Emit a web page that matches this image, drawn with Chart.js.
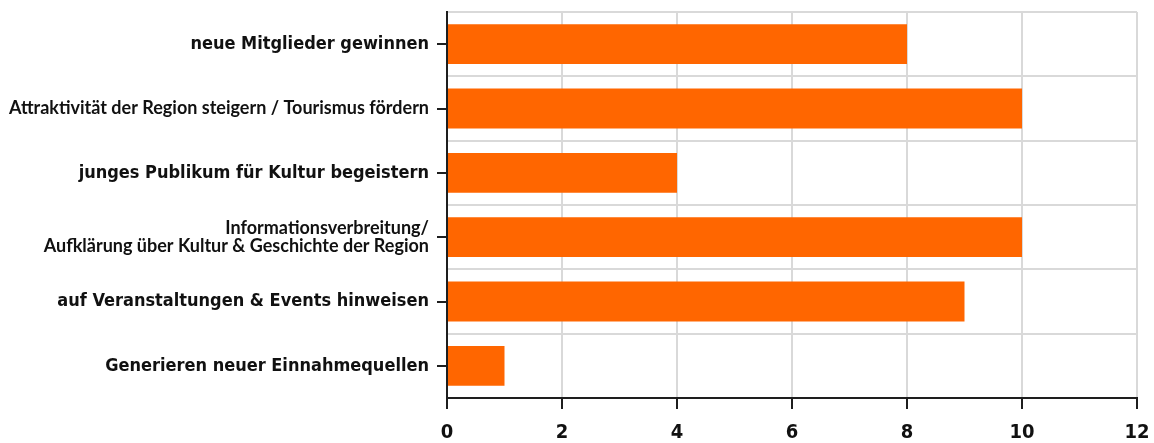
<!DOCTYPE html>
<html>
<head>
<meta charset="utf-8">
<script src="https://cdn.jsdelivr.net/npm/chart.js@4"></script>
<style>
  html, body { margin: 0; padding: 0; background: #fff; }
  #wrap { width: 1154px; height: 443px; }
</style>
</head>
<body>
<div id="wrap"><canvas id="chart"></canvas></div>
<script>
const categories = [
  "neue Mitglieder gewinnen",
  "Attraktivität der Region steigern / Tourismus fördern",
  "junges Publikum für Kultur begeistern",
  ["Informationsverbreitung/", "Aufklärung über Kultur & Geschichte der Region"],
  "auf Veranstaltungen & Events hinweisen",
  "Generieren neuer Einnahmequellen"
];
const counts = [8, 10, 4, 10, 9, 1];
const xTicks = [0, 2, 4, 6, 8, 10, 12];
// the two long labels are set in a narrower face
const narrowLabels = [1, 3];

const AXIS = "#1e1e1e";
const GRID = "#d9d9d9";

// short dark tick marks at the centre of each category band
const categoryTicks = {
  id: "categoryTicks",
  afterDraw(chart) {
    const { ctx, chartArea, scales } = chart;
    ctx.save();
    ctx.strokeStyle = AXIS;
    ctx.lineWidth = 2;
    scales.y.ticks.forEach((t, i) => {
      const y = Math.round(scales.y.getPixelForTick(i));
      ctx.beginPath();
      ctx.moveTo(chartArea.left - 10, y);
      ctx.lineTo(chartArea.left, y);
      ctx.stroke();
    });
    ctx.restore();
  }
};

new Chart(document.getElementById("chart"), {
  type: "bar",
  data: {
    labels: categories,
    datasets: [{
      data: counts,
      backgroundColor: "#ff6600",
      categoryPercentage: 1,
      barPercentage: 0.62
    }]
  },
  options: {
    indexAxis: "y",
    responsive: true,
    maintainAspectRatio: false,
    animation: false,
    layout: { padding: { top: 12, right: 17, left: 8, bottom: 0 } },
    plugins: { legend: { display: false }, tooltip: { enabled: false } },
    scales: {
      x: {
        min: 0,
        max: 12,
        afterBuildTicks: (axis) => { axis.ticks = xTicks.map(v => ({ value: v })); },
        afterFit: (axis) => {
          axis.height = 45;
          axis.paddingLeft = 0;
          axis.paddingRight = 0;
        },
        grid: { color: GRID, lineWidth: 2, tickColor: AXIS, tickLength: 11 },
        border: { color: AXIS, width: 2 },
        ticks: {
          color: "#111",
          padding: 12,
          font: { family: "DejaVu Sans Condensed", size: 20, weight: "bold" }
        }
      },
      y: {
        afterFit: (axis) => {
          axis.width = 439;
          axis.paddingTop = 0;
          axis.paddingBottom = 0;
        },
        grid: { color: GRID, lineWidth: 2, offset: true, tickColor: "rgba(0,0,0,0)", tickLength: 10 },
        border: { color: AXIS, width: 2 },
        ticks: {
          color: "#111",
          padding: 8,
          font: (c) => narrowLabels.includes(c.index)
            ? { family: "Lato", size: 18, weight: "bold", lineHeight: 1.05 }
            : { family: "DejaVu Sans Condensed", size: 18, weight: "bold" }
        }
      }
    }
  },
  plugins: [categoryTicks]
});
</script>
</body>
</html>
